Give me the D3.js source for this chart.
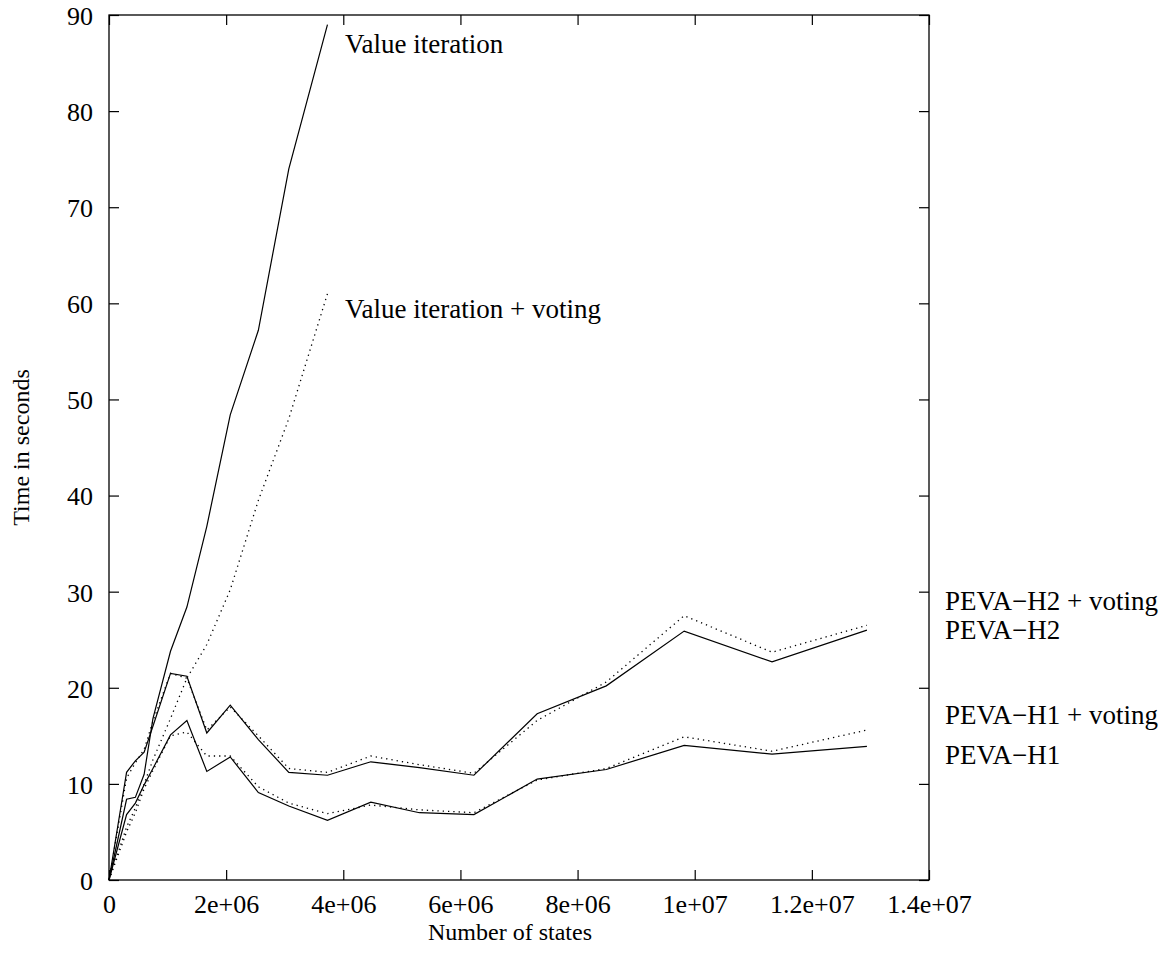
<!DOCTYPE html>
<html>
<head>
<meta charset="utf-8">
<script src="https://cdn.jsdelivr.net/npm/d3@7"></script>
<style>
  html, body { margin: 0; padding: 0; background: #fff; }
  svg { display: block; }
  text { font-family: "Liberation Serif", "Times New Roman", serif; fill: #000; }
</style>
</head>
<body>
<svg id="chart" width="1173" height="954"></svg>
<script>
// Problem sizes (number of states) at which the solvers were timed
const states = [0, 0.3e6, 0.45e6, 0.6e6, 0.75e6, 1.05e6, 1.33e6, 1.67e6, 2.07e6, 2.55e6,
                3.07e6, 3.73e6, 4.47e6, 5.3e6, 6.23e6, 7.31e6, 8.49e6, 9.82e6, 11.32e6, 12.94e6];

// Running times in seconds
const valueIteration       = [0, 8.4, 8.6, 11.0, 16.8, 23.8, 28.4, 36.8, 48.4, 57.2, 74.0, 89.0];
const valueIterationVoting = [0, 5.5, 7.5, 10.0, 12.5, 16.8, 21.0, 24.5, 30.2, 39.5, 48.0, 61.0];
const pevaH2       = [0, 11.2, 12.4, 13.3, 16.0, 21.5, 21.2, 15.3, 18.2, 14.6, 11.2, 10.9,
                      12.3, 11.7, 10.9, 17.3, 20.2, 25.9, 22.7, 26.0];
const pevaH2Voting = [0, 10.6, 12.2, 13.6, 16.5, 21.5, 21.0, 15.6, 18.0, 15.0, 11.6, 11.2,
                      12.9, 12.0, 11.1, 16.6, 20.6, 27.5, 23.7, 26.5];
const pevaH1       = [0, 6.8, 8.0, 9.9, 11.6, 15.1, 16.6, 11.3, 12.8, 9.1, 7.7, 6.2,
                      8.1, 7.0, 6.8, 10.5, 11.5, 14.0, 13.1, 13.9];
const pevaH1Voting = [0, 5.0, 7.0, 9.5, 11.4, 15.0, 15.4, 12.9, 12.9, 9.7, 8.0, 6.9,
                      7.8, 7.3, 7.0, 10.4, 11.6, 14.9, 13.4, 15.6];

// Axis ticks
const xTicks = [0, 2e6, 4e6, 6e6, 8e6, 10e6, 12e6, 14e6];
const xTickLabels = ["0", "2e+06", "4e+06", "6e+06", "8e+06", "1e+07", "1.2e+07", "1.4e+07"];
const yTicks = [0, 10, 20, 30, 40, 50, 60, 70, 80, 90];

const seriesNames = ["Value iteration", "Value iteration + voting",
                     "PEVA\u2212H2", "PEVA\u2212H2 + voting",
                     "PEVA\u2212H1", "PEVA\u2212H1 + voting"];
const seriesValues = [valueIteration, valueIterationVoting, pevaH2, pevaH2Voting, pevaH1, pevaH1Voting];
const seriesDotted = [false, true, false, true, false, true];

// ---- layout ----
const plot = { left: 109, right: 929, top: 15, bottom: 880 };
const fontSize = 26;
const labelSize = 27;
const titleSize = 24;
const svg = d3.select("#chart");

const x = d3.scaleLinear().domain([0, 1.4e7]).range([plot.left, plot.right]);
const y = d3.scaleLinear().domain([0, 90]).range([plot.bottom, plot.top]);

const tickLen = 10;

// Inward ticks on all four sides (mirror ticks)
function styleAxis(g) {
  g.select(".domain").remove();
  g.selectAll(".tick line").attr("stroke", "#000").attr("stroke-width", 1.2);
  g.selectAll(".tick text").attr("font-size", fontSize).attr("font-family", "Liberation Serif");
}

svg.append("g")
  .attr("transform", `translate(0,${plot.bottom})`)
  .call(d3.axisBottom(x).tickValues(xTicks).tickSize(-tickLen).tickPadding(18)
        .tickFormat((d, i) => xTickLabels[i]))
  .call(styleAxis)
  .call(g => g.selectAll(".tick text").attr("dy", "0.71em").attr("y", 15));

svg.append("g")
  .attr("transform", `translate(0,${plot.top})`)
  .call(d3.axisTop(x).tickValues(xTicks).tickSize(-tickLen).tickFormat(""))
  .call(styleAxis);

svg.append("g")
  .attr("transform", `translate(${plot.left},0)`)
  .call(d3.axisLeft(y).tickValues(yTicks).tickSize(-tickLen).tickPadding(16).tickFormat(d3.format("d")))
  .call(styleAxis)
  .call(g => g.selectAll(".tick text").attr("x", -16).attr("dy", "0.36em"));

svg.append("g")
  .attr("transform", `translate(${plot.right},0)`)
  .call(d3.axisRight(y).tickValues(yTicks).tickSize(-tickLen).tickFormat(""))
  .call(styleAxis);

// Frame
svg.append("rect")
  .attr("x", plot.left).attr("y", plot.top)
  .attr("width", plot.right - plot.left).attr("height", plot.bottom - plot.top)
  .attr("fill", "none").attr("stroke", "#000").attr("stroke-width", 1.3);

// Series lines
const line = d3.line()
  .x(d => x(d[0]))
  .y(d => y(d[1]));

seriesValues.forEach((vals, i) => {
  const pts = vals.map((v, k) => [states[k], v]);
  svg.append("path")
    .datum(pts)
    .attr("fill", "none")
    .attr("stroke", "#000")
    .attr("stroke-width", seriesDotted[i] ? 1.3 : 1.2)
    .attr("stroke-dasharray", seriesDotted[i] ? "1.3,4" : null)
    .attr("stroke-linejoin", "miter")
    .attr("d", line);
});

// Curve labels
const labelAt = [
  { name: seriesNames[0], px: 345, py: 53 },
  { name: seriesNames[1], px: 345, py: 318 },
  { name: seriesNames[3], px: 945, py: 610 },
  { name: seriesNames[2], px: 945, py: 639 },
  { name: seriesNames[5], px: 945, py: 724 },
  { name: seriesNames[4], px: 945, py: 764 }
];
svg.append("g").selectAll("text")
  .data(labelAt)
  .join("text")
  .attr("x", d => d.px)
  .attr("y", d => d.py)
  .attr("font-size", labelSize)
  .text(d => d.name);

// Axis titles
svg.append("text")
  .attr("x", 510)
  .attr("y", 940)
  .attr("text-anchor", "middle")
  .attr("font-size", titleSize)
  .text("Number of states");

svg.append("text")
  .attr("transform", `translate(29,${(plot.top + plot.bottom) / 2}) rotate(-90)`)
  .attr("text-anchor", "middle")
  .attr("font-size", titleSize)
  .text("Time in seconds");
</script>
</body>
</html>
